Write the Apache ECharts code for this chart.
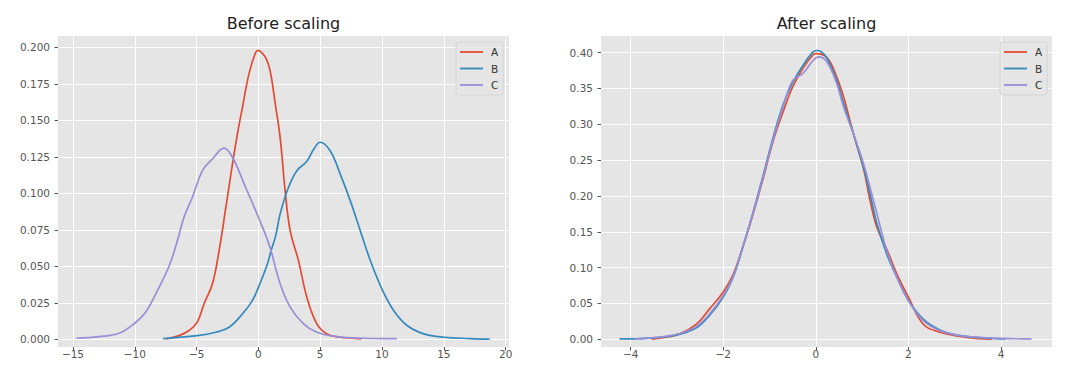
<!DOCTYPE html>
<html>
<head>
<meta charset="utf-8">
<script src="https://cdn.jsdelivr.net/npm/echarts@6/dist/echarts.min.js"></script>
<style>
  html, body { margin: 0; padding: 0; background: #fff; }
  #main { width: 1080px; height: 376px; }
</style>
</head>
<body>
<div id="main"></div>
<script>
// density curves, [x, density]
var beforeA = [[-7.5,0.0002],[-6.42,0.0025],[-5.61,0.006],[-4.96,0.0116],[-4.4,0.0242],[-3.72,0.038],[-3.18,0.0607],[-2.64,0.090],[-2.1,0.120],[-1.7,0.1406],[-1.29,0.159],[-0.76,0.182],[-0.22,0.1966],[0,0.198],[0.3,0.196],[0.59,0.193],[0.95,0.184],[1.35,0.162],[1.76,0.138],[2.16,0.102],[2.57,0.0744],[3.24,0.054],[3.92,0.0288],[4.73,0.0105],[5.54,0.0037],[6.62,0.0014],[8.3,0.0003]];
var beforeB = [[-7.72,0.0005],[-4.96,0.0025],[-3.45,0.0048],[-2.37,0.0082],[-1.29,0.0174],[-0.49,0.0265],[0,0.0356],[0.73,0.0516],[1.0,0.060],[1.4,0.071],[1.76,0.086],[2.43,0.104],[3.11,0.1155],[3.92,0.122],[4.46,0.130],[5.0,0.135],[5.81,0.129],[6.62,0.1132],[7.43,0.095],[8.24,0.0744],[9.05,0.054],[10.05,0.0333],[10.95,0.0196],[12.03,0.0094],[13.38,0.0037],[15,0.0014],[17.16,0.0005],[18.7,0.0001]];
var beforeC = [[-14.73,0.0007],[-12.9,0.0018],[-11.28,0.0041],[-10.0,0.011],[-9.12,0.0185],[-8.31,0.031],[-7.23,0.050],[-6.55,0.0676],[-6.02,0.0836],[-5.34,0.0973],[-4.53,0.1155],[-3.72,0.1235],[-2.78,0.131],[-2.1,0.1247],[-1.03,0.104],[0,0.0836],[0.9,0.064],[1.76,0.038],[2.57,0.022],[3.65,0.0105],[4.73,0.0048],[6.35,0.0018],[8.5,0.0007],[11.2,0.0004]];

var afterA = [[-3.55,0.0003],[-3.37,0.0015],[-2.94,0.0075],[-2.58,0.021],[-2.3,0.042],[-2.0,0.066],[-1.79,0.090],[-1.58,0.128],[-1.36,0.174],[-1.14,0.224],[-0.93,0.275],[-0.71,0.317],[-0.5,0.352],[-0.28,0.378],[-0.06,0.397],[0.0,0.3986],[0.24,0.393],[0.45,0.366],[0.6,0.338],[0.81,0.287],[1.03,0.238],[1.17,0.194],[1.32,0.156],[1.53,0.126],[1.75,0.091],[2.0,0.0587],[2.32,0.021],[2.68,0.0098],[3.12,0.004],[3.5,0.001],[3.8,0.0003]];
var afterB = [[-4.24,0.0005],[-3.8,0.001],[-3.37,0.0025],[-2.94,0.0070],[-2.58,0.016],[-2.3,0.033],[-2.0,0.059],[-1.79,0.086],[-1.58,0.128],[-1.36,0.176],[-1.14,0.228],[-0.93,0.280],[-0.71,0.327],[-0.5,0.358],[-0.28,0.382],[-0.06,0.401],[0.02,0.403],[0.1,0.402],[0.24,0.392],[0.45,0.361],[0.6,0.329],[0.81,0.287],[1.03,0.240],[1.17,0.203],[1.32,0.161],[1.53,0.119],[1.75,0.0866],[2.0,0.054],[2.32,0.028],[2.68,0.013],[3.12,0.005],[3.69,0.0017],[4.1,0.0005]];
var afterC = [[-3.9,0.0005],[-3.37,0.003],[-2.94,0.008],[-2.58,0.018],[-2.3,0.035],[-2.0,0.061],[-1.79,0.087],[-1.58,0.129],[-1.36,0.175],[-1.14,0.226],[-0.93,0.277],[-0.71,0.324],[-0.5,0.361],[-0.28,0.371],[-0.06,0.389],[0.06,0.394],[0.24,0.387],[0.45,0.357],[0.6,0.324],[0.81,0.287],[1.03,0.245],[1.17,0.212],[1.32,0.175],[1.53,0.124],[1.75,0.0866],[2.0,0.054],[2.32,0.026],[2.68,0.012],[3.12,0.005],[3.69,0.002],[4.66,0.0004]];

var beforeXTicks = [-15, -10, -5, 0, 5, 10, 15, 20];
var beforeYTicks = [0, 0.025, 0.05, 0.075, 0.1, 0.125, 0.15, 0.175, 0.2];
var afterXTicks = [-4, -2, 0, 2, 4];
var afterYTicks = [0, 0.05, 0.1, 0.15, 0.2, 0.25, 0.3, 0.35, 0.4];

var names = ['A', 'B', 'C'];
var colors = ['#E24A33', '#348ABD', '#988ED5'];
var font = 'DejaVu Sans';

function minus(v) { return String(v).replace('-', '\u2212'); }

function xAxis(idx, min, max, step, ticks) {
  return {
    type: 'value', gridIndex: idx, min: min, max: max,
    minInterval: step, maxInterval: step,
    axisLine: { show: false, onZero: false },
    axisTick: { show: true, customValues: ticks, length: 3.5, lineStyle: { color: '#555', width: 1 } },
    axisLabel: { customValues: ticks, formatter: minus, color: '#555', fontSize: 10.5, fontFamily: font, margin: 1 },
    splitLine: { show: true, lineStyle: { color: '#fff', width: 1 } }
  };
}
function yAxis(idx, min, max, step, ticks, digits) {
  return {
    type: 'value', gridIndex: idx, min: min, max: max,
    minInterval: step, maxInterval: step,
    axisLine: { show: false, onZero: false },
    axisTick: { show: true, customValues: ticks, length: 3.5, lineStyle: { color: '#555', width: 1 } },
    axisLabel: { customValues: ticks, formatter: function (v) { return v.toFixed(digits); }, color: '#555', fontSize: 10.5, fontFamily: font, margin: 8 },
    splitLine: { show: true, lineStyle: { color: '#fff', width: 1 } }
  };
}
function legend(left) {
  return {
    data: names.map(function (n) { return { name: n, icon: 'path://M0,0H23V1.8H0Z' }; }),
    orient: 'vertical', left: left, top: 42,
    itemWidth: 23, itemHeight: 12, itemGap: 4.5,
    padding: [4, 5, 4, 4],
    backgroundColor: 'rgba(229,229,229,0.8)',
    borderColor: '#d6d6d6', borderWidth: 1, borderRadius: 3,
    textStyle: { fontSize: 10.5, fontFamily: font, color: '#333', lineHeight: 12, padding: [0, 0, 0, 3] }
  };
}

var before = [beforeA, beforeB, beforeC];
var after = [afterA, afterB, afterC];
var series = [];
[before, after].forEach(function (set, g) {
  set.forEach(function (d, i) {
    series.push({
      name: names[i], type: 'line', xAxisIndex: g, yAxisIndex: g,
      data: d, symbol: 'none', smooth: 0.4,
      lineStyle: { color: colors[i], width: 1.7 }, itemStyle: { color: colors[i] },
      silent: true
    });
  });
});

var chart = echarts.init(document.getElementById('main'), null, { renderer: 'svg' });
chart.setOption({
  animation: false,
  title: [
    { text: 'Before scaling', left: 283.5, top: 15, textAlign: 'center', padding: 0,
      textStyle: { fontFamily: font, fontSize: 16, fontWeight: 'normal', color: '#222' } },
    { text: 'After scaling', left: 826.5, top: 15, textAlign: 'center', padding: 0,
      textStyle: { fontFamily: font, fontSize: 16, fontWeight: 'normal', color: '#222' } }
  ],
  legend: [legend(456), legend(1000)],
  grid: [
    { left: 58, top: 36, width: 451, height: 311, show: true, backgroundColor: '#E5E5E5', borderWidth: 0 },
    { left: 601, top: 36, width: 451, height: 311, show: true, backgroundColor: '#E5E5E5', borderWidth: 0 }
  ],
  xAxis: [
    xAxis(0, -16.21, 20.27, 5, beforeXTicks),
    xAxis(1, -4.64, 5.10, 2, afterXTicks)
  ],
  yAxis: [
    yAxis(0, -0.0053, 0.2078, 0.025, beforeYTicks, 3),
    yAxis(1, -0.0108, 0.4232, 0.05, afterYTicks, 2)
  ],
  series: series
});
</script>
</body>
</html>
